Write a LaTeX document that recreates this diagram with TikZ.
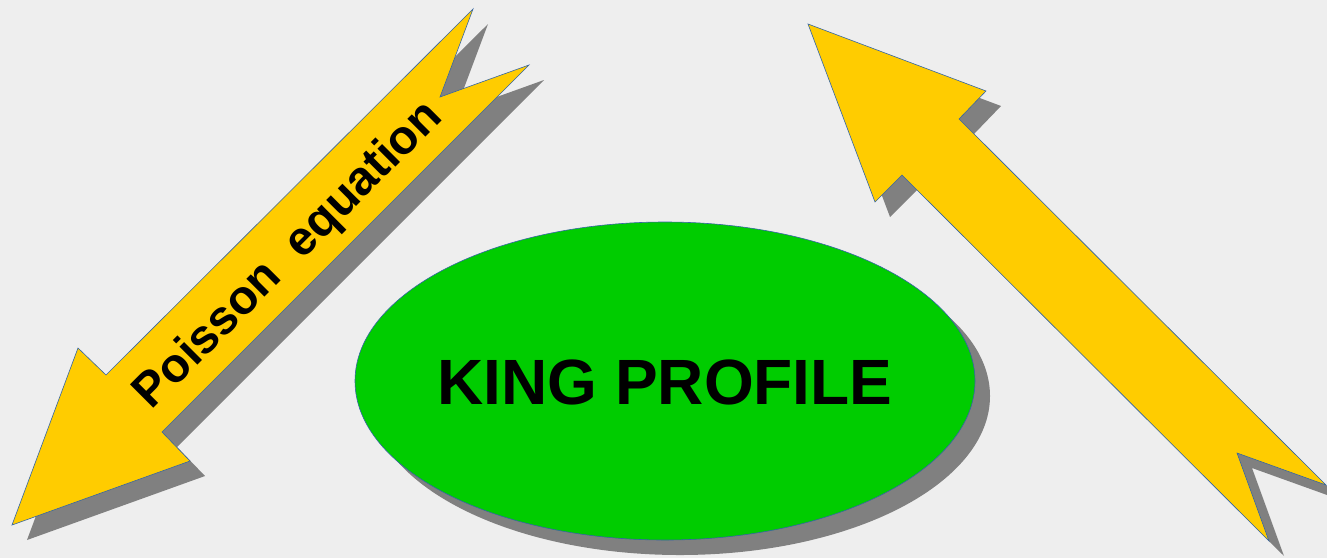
\documentclass[tikz,border=0pt]{standalone}
\usepackage{fontspec}
\setmainfont{Liberation Sans}
\usetikzlibrary{shapes.geometric}
\definecolor{bgcol}{HTML}{EEEEEE}
\definecolor{arrowyellow}{HTML}{FFCC00}
\definecolor{kinggreen}{HTML}{00CC00}
\definecolor{shadowgray}{HTML}{808080}
\definecolor{outlineblue}{HTML}{3465A4}
\begin{document}
\begin{tikzpicture}[x=1pt,y=-1pt,
  arrowshape/.style={fill=arrowyellow,draw=outlineblue,line width=0.6pt,line join=miter},
  shadowshape/.style={fill=shadowgray,shift={(15,15)}},
  bigtext/.style={font=\bfseries\fontsize{64}{70}\selectfont,text=black},
  arrowtext/.style={font=\bfseries\fontsize{48}{54}\selectfont,text=black,rotate=45}]
\fill[bgcol] (0,0) rectangle (1327,558);
\useasboundingbox (0,0) rectangle (1327,558);
% left arrow (Poisson equation)
\fill[shadowshape] (12,525) -- (78,348) -- (106,375) -- (473,9) -- (440,97) -- (529,65) -- (162,432) -- (190,461) -- cycle;
\draw[arrowshape] (12,525) -- (78,348) -- (106,375) -- (473,9) -- (440,97) -- (529,65) -- (162,432) -- (190,461) -- cycle;
\node[arrowtext] (poisson) at (289,256) {Poisson\ \ equation};
% right arrow
\fill[shadowshape] (808,24) -- (986,91) -- (959,119) -- (1326,485) -- (1237,453) -- (1269,541) -- (902,175) -- (875,202) -- cycle;
\draw[arrowshape] (808,24) -- (986,91) -- (959,119) -- (1326,485) -- (1237,453) -- (1269,541) -- (902,175) -- (875,202) -- cycle;
% ellipse
\fill[shadowgray] (680,396) ellipse [x radius=310, y radius=159];
\node[ellipse, minimum width=620pt, minimum height=318pt, inner sep=0pt, fill=kinggreen, draw=outlineblue, line width=0.6pt] (king) at (665,381) {};
\node[bigtext] (kingtext) at (665,382) {KING PROFILE};
\end{tikzpicture}
\end{document}
